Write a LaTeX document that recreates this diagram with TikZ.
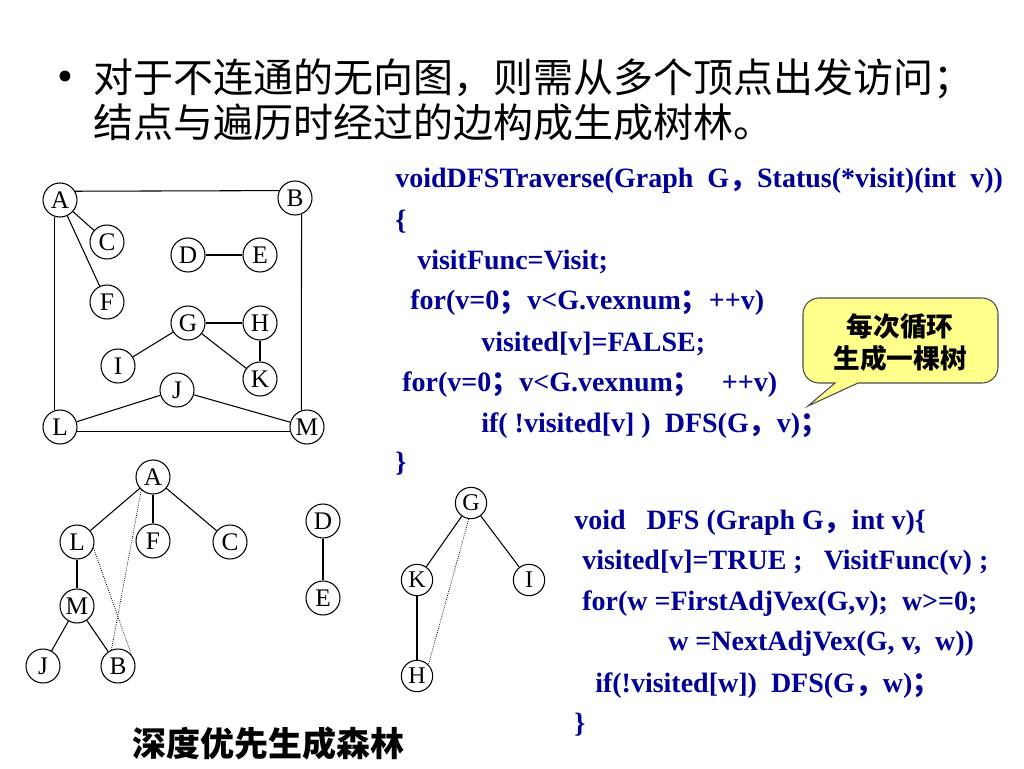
\documentclass[tikz,border=0pt]{standalone}
\usepackage{fontspec}
\setmainfont{Liberation Serif}
\newfontfamily\cjk{Noto Sans CJK SC}
\definecolor{codeblue}{RGB}{0,0,150}
\definecolor{calloutfill}{RGB}{255,255,140}
\newcommand\zw[1]{{\cjk #1}}
\tikzset{
  vx/.style={circle,draw,line width=0.8pt,inner sep=0pt,minimum size=25.5pt,font=\fontsize{19}{19}\selectfont},
  vs/.style={circle,draw,line width=0.8pt,inner sep=0pt,minimum size=23.5pt,font=\fontsize{18}{18}\selectfont},
  edge/.style={line width=0.8pt},
  back/.style={line width=0.6pt,densely dotted},
  code/.style={anchor=base west,inner sep=0pt,text=codeblue,font=\fontsize{21}{21}\selectfont\bfseries},
  title/.style={anchor=base west,inner sep=0pt,font=\fontsize{30}{30}\selectfont\cjk},
}
\begin{document}
\begin{tikzpicture}[x=0.75pt,y=-0.75pt]
\useasboundingbox (0,0) rectangle (1024,768);
% title
\node[anchor=base,inner sep=0pt,font=\fontsize{34}{34}\selectfont] (bul) at (65,91) {•};
\node[title] (t1) at (93,92) {对于不连通的无向图，则需从多个顶点出发访问；};
\node[title] (t2) at (93,137) {结点与遍历时经过的边构成生成树林。};
% top graph
\node[vx] (A) at (60,200) {A};
\node[vx] (B) at (295,198) {B};
\node[vx] (C) at (107,242) {C};
\node[vx] (D) at (188,255) {D};
\node[vx] (E) at (260,255) {E};
\node[vx] (F) at (107,302) {F};
\node[vx] (G) at (188,323) {G};
\node[vx] (H) at (260,323) {H};
\node[vx] (I) at (118,366) {I};
\node[vx] (K) at (260,379) {K};
\node[vx] (J) at (177,390) {J};
\node[vx] (L) at (60,427) {L};
\node[vx] (M) at (307,427) {M};
\draw[edge] (A.30) -- (B.155);
\draw[edge] (A.253) -- (L.107);
\draw[edge] (B.292) -- (M.109);
\draw[edge] (L.345) -- (M.195);
\draw[edge] (A) -- (C);
\draw[edge] (A) -- (F);
\draw[edge] (D) -- (E);
\draw[edge] (G) -- (H);
\draw[edge] (G) -- (I);
\draw[edge] (G) -- (K);
\draw[edge] (H) -- (K);
\draw[edge] (L) -- (J);
\draw[edge] (J) -- (M);
% forest tree 1
\node[vx] (A2) at (153,477) {A};
\node[vx] (L2) at (77,542) {L};
\node[vx] (F2) at (153,541) {F};
\node[vx] (C2) at (230,542) {C};
\node[vx] (M2) at (77,606) {M};
\node[vx] (J2) at (43,666) {J};
\node[vx] (B2) at (118,666) {B};
\draw[edge] (A2) -- (L2);
\draw[edge] (A2) -- (F2);
\draw[edge] (A2) -- (C2);
\draw[edge] (L2) -- (M2);
\draw[edge] (M2) -- (J2);
\draw[edge] (M2) -- (B2);
\draw[back] (A2.228) -- (B2.112);
\draw[back] (L2.340) -- (B2.40);
% forest tree 2
\node[vx] (D2) at (323,521) {D};
\node[vx] (E2) at (323,598) {E};
\draw[edge] (D2) -- (E2);
% forest tree 3
\node[vs] (G3) at (471,503) {G};
\node[vs] (K3) at (417,580) {K};
\node[vs] (I3) at (529,580) {I};
\node[vs] (H3) at (417,676) {H};
\draw[edge] (G3) -- (K3);
\draw[edge] (G3) -- (I3);
\draw[edge] (K3) -- (H3);
\draw[back] (G3.262) -- (H3.45);
% code block 1
\node[code] (c1) at (395,187) {voidDFSTraverse(Graph\ \ G\zw{，}Status(*visit)(int\ \ v))};
\node[code] (c2) at (395,229) {\{};
\node[code] (c3) at (417,269) {visitFunc=Visit;};
\node[code] (c4) at (410,309) {for(v=0\zw{；}v<G.vexnum\zw{；}++v)};
\node[code] (c5) at (481,351) {visited[v]=FALSE;};
\node[code] (c6) at (402,391) {for(v=0\zw{；}v<G.vexnum\zw{；}\ \ \ ++v)};
\node[code] (c7) at (481,432) {if( !visited[v] )\ \ DFS(G\zw{，}v)\zw{；}};
\node[code] (c8) at (395,471) {\}};
% code block 2
\node[code] (d1) at (574,529) {void\ \ \ DFS (Graph G\zw{，}int v)\{};
\node[code] (d2) at (582,569) {visited[v]=TRUE ;\ \ \ VisitFunc(v) ;};
\node[code] (d3) at (582,610) {for(w =FirstAdjVex(G,v);\ \ w>=0;};
\node[code] (d4) at (668,650) {w =NextAdjVex(G, v,\ \ w))};
\node[code] (d5) at (595,692) {if(!visited[w])\ \ DFS(G\zw{，}w)\zw{；}};
\node[code] (d6) at (574,732) {\}};
% callout
\draw[line width=0.8pt,draw=black!70,fill=calloutfill]
  (835,383) [rounded corners=12pt] -- (803,383) -- (803,298) -- (998,298) -- (998,383) [sharp corners] -- (858,383) -- (808,406) -- cycle;
\node[align=center,inner sep=0pt,font=\fontsize{20}{24}\selectfont\cjk\bfseries] (co) at (900,342) {每次循环\\生成一棵树};
% caption
\node[anchor=base,inner sep=0pt,font=\fontsize{25.5}{25.5}\selectfont\cjk\bfseries] (cap) at (268,756) {深度优先生成森林};
\end{tikzpicture}
\end{document}
